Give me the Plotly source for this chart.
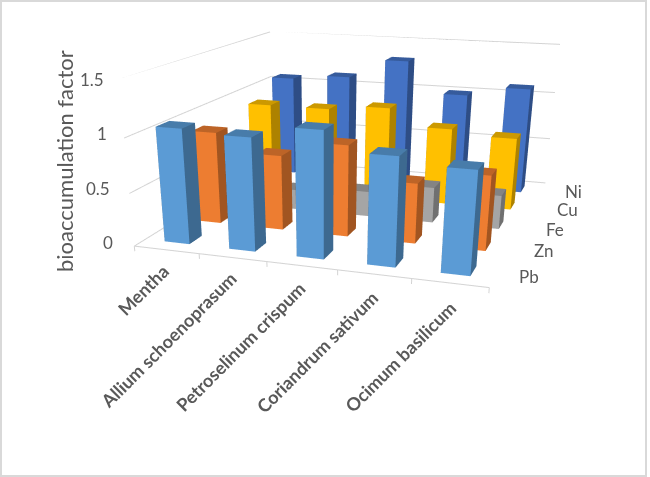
import numpy as np
import plotly.graph_objects as go

categories = ["Mentha", "Allium schoenoprasum", "Petroselinum crispum", "Coriandrum sativum", "Ocimum basilicum"]
series_names = ["Pb", "Zn", "Fe", "Cu", "Ni"]
Pb = [1.07, 1.04, 1.15, 0.98, 0.92]
Zn = [0.89, 0.72, 0.87, 0.57, 0.70]
Fe = [0.20, 0.20, 0.25, 0.35, 0.33]
Cu = [0.90, 0.90, 0.95, 0.78, 0.73]
Ni = [1.07, 1.12, 1.32, 1.00, 1.10]
values = [Pb, Zn, Fe, Cu, Ni]
colors = [(0x5B,0x9B,0xD5),(0xED,0x7D,0x31),(0xA5,0xA5,0xA5),(0xFF,0xC0,0x00),(0x44,0x72,0xC4)]
z_ticks = [0, 0.5, 1, 1.5]
z_tick_labels = ["0", "0.5", "1", "1.5"]

W, H, FH = 650, 477, 800
ZLO, ZHI = -0.1, 1.5
w = 0.39; d = 0.38

fig = go.Figure()
def shade(c, k):
    return "rgb(%d,%d,%d)" % tuple(int(v*k) for v in c)
for si, (vals, col) in enumerate(zip(values, colors)):
    X=[];Y=[];Z=[];I=[];J_=[];K=[];FC=[]
    for cj, v in enumerate(vals):
        x0,x1 = cj+.5-w/2, cj+.5+w/2
        y0,y1 = si+.5-d/2, si+.5+d/2
        b = len(X)
        X += [x0,x1,x1,x0,x0,x1,x1,x0]
        Y += [y0,y0,y1,y1,y0,y0,y1,y1]
        Z += [0,0,0,0,v,v,v,v]
        faces = [((0,1,5),1),((0,5,4),1),((1,2,6),.68),((1,6,5),.68),((4,5,6),.8),((4,6,7),.8),
                 ((0,3,7),.68),((0,7,4),.68),((3,2,6),.68),((3,6,7),.68)]
        for (a,bb,c),k in faces:
            I.append(b+a);J_.append(b+bb);K.append(b+c);FC.append(shade(col,k))
    fig.add_trace(go.Mesh3d(x=X,y=Y,z=Z,i=I,j=J_,k=K,facecolor=FC,flatshading=True,hoverinfo="skip",
        lighting=dict(ambient=1,diffuse=0,specular=0,fresnel=0,roughness=1)))
gx=[];gy=[];gz=[]
def seg(a,b):
    gx.extend([a[0],b[0],None]);gy.extend([a[1],b[1],None]);gz.extend([a[2],b[2],None])
for t in z_ticks:
    seg((0,0,t),(0,5,t));seg((0,5,t),(5,5,t))
seg((0,0,0),(5,0,0))
for t in range(6):
    seg((t,0,0),(t,0,-0.05))
fig.add_trace(go.Scatter3d(x=gx,y=gy,z=gz,mode="lines",line=dict(color="#D4D4D4",width=2),hoverinfo="skip",connectgaps=False))
ax_off=dict(visible=False,showgrid=False,zeroline=False,showbackground=False,showspikes=False)
fig.update_layout(width=W,height=FH,margin=dict(l=0,r=0,t=0,b=0),paper_bgcolor="white",showlegend=False,
  scene=dict(domain=dict(x=[0,1],y=[0,1]),
    xaxis=dict(range=[0,5],**ax_off),yaxis=dict(range=[0,5],**ax_off),zaxis=dict(range=[ZLO,ZHI],**ax_off),
    aspectmode="manual",aspectratio=dict(x=2.011,y=2.124,z=0.9623),
    camera=dict(eye=dict(x=1.7062,y=-5.6588,z=1.3228),center=dict(x=-0.2334,y=0,z=-1.7915),up=dict(x=-0.0058,y=0,z=1))))
TXT="#595959"
def ann(x,y,t,size=17,xanchor="center"):
    fig.add_annotation(x=x/W,y=1-y/FH,xref="paper",yref="paper",text=t,showarrow=False,
        xanchor=xanchor,yanchor="middle",textangle=0,font=dict(family="Lato",size=size,color=TXT))
def rann(x,y,t,size,angle):
    fig.add_annotation(x=x/W,y=1-y/FH,xref="paper",yref="paper",text=t,showarrow=False,
        xanchor="center",yanchor="middle",textangle=angle,font=dict(family="Lato",size=size,color=TXT))
for t,(x,y) in zip(z_tick_labels,[(115,243),(112,188),(109,133),(106,79)]):
    ann(x,y,t,xanchor="right")
rann(64,161,"bioaccumulation factor",22,-90)
for t,(x,y) in zip(categories,[(143,290),(168,340),(240,347),(317,352),(400,357)]):
    rann(x,y,"<b>%s</b>"%t,18,-45)
for t,(x,y) in zip(series_names,[(529,276),(543,251),(555,229),(567,209),(573,191)]):
    ann(x,y,t)
fig.add_shape(type="rect",xref="paper",yref="paper",x0=1/W,x1=646/W,y0=1-476/FH,y1=1-1/FH,line=dict(color="#D9D9D9",width=2))
fig.write_html("out.html",config={"displayModeBar":False},post_script="document.documentElement.style.overflow='hidden';document.body.style.overflow='hidden';document.body.style.margin='0';document.body.style.height='477px';")
